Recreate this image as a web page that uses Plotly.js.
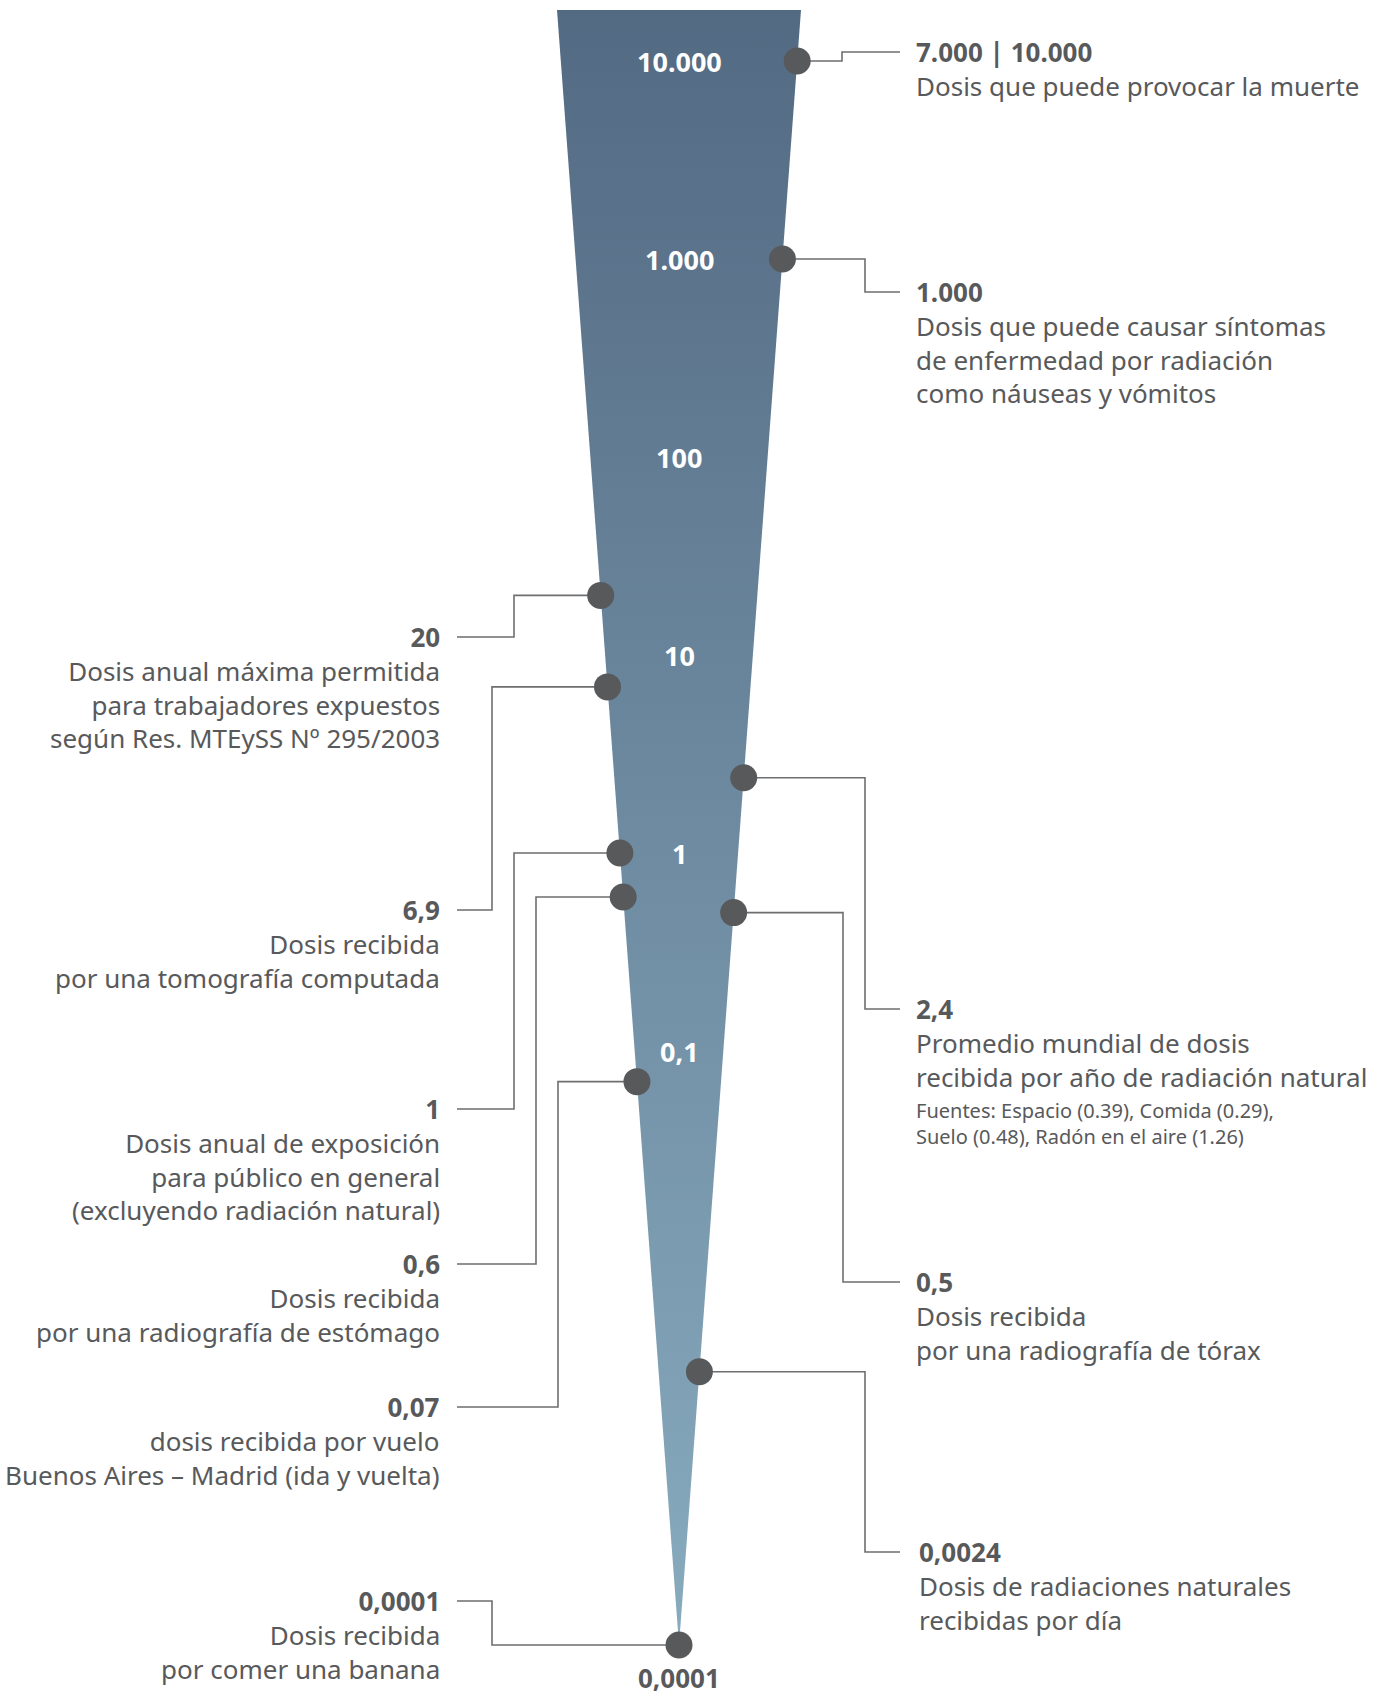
<!DOCTYPE html>
<html><head><meta charset="utf-8">
<script src="https://cdn.plot.ly/plotly-3.0.1.min.js"></script>
<style>html,body{margin:0;padding:0;background:#fff}#chart{width:1386px;height:1697px}</style>
</head><body><div id="chart"></div>
<script>
// ---- data ----
const doseValues = [10000, 1000, 20, 6.9, 2.4, 1, 0.6, 0.5, 0.07, 0.0024, 0.0001];
const doseHeaders = ['7.000 | 10.000', '1.000', '20', '6,9', '2,4', '1', '0,6', '0,5', '0,07', '0,0024', '0,0001'];
const doseDescriptions = [
  'Dosis que puede provocar la muerte',
  'Dosis que puede causar síntomas<br>de enfermedad por radiación<br>como náuseas y vómitos',
  'Dosis anual máxima permitida<br>para trabajadores expuestos<br>según Res. MTEySS Nº 295/2003',
  'Dosis recibida<br>por una tomografía computada',
  'Promedio mundial de dosis<br>recibida por año de radiación natural',
  'Dosis anual de exposición<br>para público en general<br>(excluyendo radiación natural)',
  'Dosis recibida<br>por una radiografía de estómago',
  'Dosis recibida<br>por una radiografía de tórax',
  'dosis recibida por vuelo<br>Buenos Aires – Madrid (ida y vuelta)',
  'Dosis de radiaciones naturales<br>recibidas por día',
  'Dosis recibida<br>por comer una banana'
];
const doseNotes = ['', '', '', '', 'Fuentes: Espacio (0.39), Comida (0.29),<br>Suelo (0.48), Radón en el aire (1.26)', '', '', '', '', '', ''];
const labelSides = ['right', 'right', 'left', 'left', 'right', 'left', 'left', 'right', 'left', 'right', 'left'];
const scaleTickValues = [10000, 1000, 100, 10, 1, 0.1, 0.0001];
const scaleTickLabels = ['10.000', '1.000', '100', '10', '1', '0,1', '0,0001'];

// ---- layout of the page (pixels) ----
const W = 1386, H = 1697;
const CENTER_PX = 679;
const PX_PER_DECADE = 198;
const TOP_TICK_PX = 61;                     // where 10^4 sits
const Y_TOP = 4 + TOP_TICK_PX / PX_PER_DECADE;
const Y_BOTTOM = Y_TOP - H / PX_PER_DECADE;
const pxToX = px => px - CENTER_PX;
const pxToVal = py => Math.pow(10, Y_TOP - py / PX_PER_DECADE);
const paperX = px => px / W;
const paperY = py => 1 - py / H;

const CONE_TOP_VAL = pxToVal(10);
const CONE_TIP_VAL = 0.0001;
const CONE_HALF = 122;
function edgeX(v, side) {
  const hw = CONE_HALF * (Math.log10(v) - Math.log10(CONE_TIP_VAL)) /
             (Math.log10(CONE_TOP_VAL) - Math.log10(CONE_TIP_VAL));
  return side === 'right' ? hw : -hw;
}

const labelLayout = [
  {hx: 914, hy: 52, elbow: 842},
  {hx: 914, hy: 292, elbow: 865},
  {hx: 442, hy: 637, elbow: 514},
  {hx: 442, hy: 910, elbow: 492},
  {hx: 914, hy: 1009, elbow: 865},
  {hx: 442, hy: 1109, elbow: 514},
  {hx: 442, hy: 1264, elbow: 536},
  {hx: 914, hy: 1282, elbow: 843},
  {hx: 442, hy: 1407, elbow: 558},
  {hx: 917, hy: 1552, elbow: 865},
  {hx: 442, hy: 1601, elbow: 492}
];

const TEXT = '#58595b';
const FONT = '"Noto Sans", "Open Sans", sans-serif';

// cone
const cone = {
  type: 'scatter', mode: 'lines', hoverinfo: 'skip',
  x: [-CONE_HALF, CONE_HALF, 0, -CONE_HALF],
  y: [CONE_TOP_VAL, CONE_TOP_VAL, CONE_TIP_VAL, CONE_TOP_VAL],
  fill: 'toself', line: {width: 0, color: 'rgba(0,0,0,0)'},
  fillcolor: '#7896ac',
  fillgradient: {type: 'vertical', colorscale: [[0, '#88abbe'], [1, '#536a83']]}
};

// leader lines
const lx = [], ly = [];
doseValues.forEach((v, i) => {
  const L = labelLayout[i];
  const side = labelSides[i];
  const dx = edgeX(v, side);
  const hv = pxToVal(L.hy);
  if (side === 'right') {
    lx.push(dx, pxToX(L.elbow), pxToX(L.elbow), pxToX(900), null);
    ly.push(v, v, hv, hv, null);
  } else {
    lx.push(pxToX(457), pxToX(L.elbow), pxToX(L.elbow), dx, null);
    ly.push(hv, hv, v, v, null);
  }
});
const leaders = {
  type: 'scatter', mode: 'lines', x: lx, y: ly, hoverinfo: 'skip',
  line: {color: '#6d6e70', width: 1.6}, connectgaps: false
};

const dots = {
  type: 'scatter', mode: 'markers',
  x: doseValues.map((v, i) => edgeX(v, labelSides[i])),
  y: doseValues,
  marker: {size: 27, color: '#58595b', line: {width: 0}},
  hoverinfo: 'skip'
};

const annotations = [];
doseValues.forEach((v, i) => {
  const L = labelLayout[i];
  const side = labelSides[i];
  annotations.push({
    xref: 'paper', yref: 'paper',
    x: paperX(L.hx), y: paperY(L.hy - 20),
    xanchor: side === 'right' ? 'left' : 'right', yanchor: 'top',
    align: side === 'right' ? 'left' : 'right',
    showarrow: false,
    text: '<b>' + doseHeaders[i] + '</b><br>' + doseDescriptions[i],
    font: {family: FONT, size: 26, color: TEXT}
  });
  if (doseNotes[i]) {
    const nLines = doseDescriptions[i].split('<br>').length;
    annotations.push({
      xref: 'paper', yref: 'paper',
      x: paperX(L.hx), y: paperY(L.hy + (nLines + 0.5) * 33.8 + 1),
      xanchor: 'left', yanchor: 'top', align: 'left', showarrow: false,
      text: doseNotes[i],
      font: {family: FONT, size: 20, color: TEXT}
    });
  }
});
scaleTickValues.forEach((v, i) => {
  const last = i === scaleTickValues.length - 1;
  annotations.push({
    xref: 'x', yref: 'y', x: 0, y: Math.log10(v),
    xanchor: 'center', yanchor: 'middle', showarrow: false,
    yshift: last ? -33 : 0,
    text: '<b>' + scaleTickLabels[i] + '</b>',
    font: {family: FONT, size: last ? 26 : 27, color: last ? TEXT : '#ffffff'}
  });
});

const layout = {
  width: W, height: H,
  margin: {l: 0, r: 0, t: 0, b: 0, pad: 0},
  paper_bgcolor: '#ffffff', plot_bgcolor: '#ffffff',
  showlegend: false,
  xaxis: {range: [pxToX(0), pxToX(W)], visible: false, fixedrange: true},
  yaxis: {type: 'log', range: [Y_BOTTOM, Y_TOP], visible: false, fixedrange: true},
  annotations: annotations
};

Plotly.newPlot('chart', [cone, leaders, dots], layout, {staticPlot: true, displayModeBar: false});
</script>
</body></html>
